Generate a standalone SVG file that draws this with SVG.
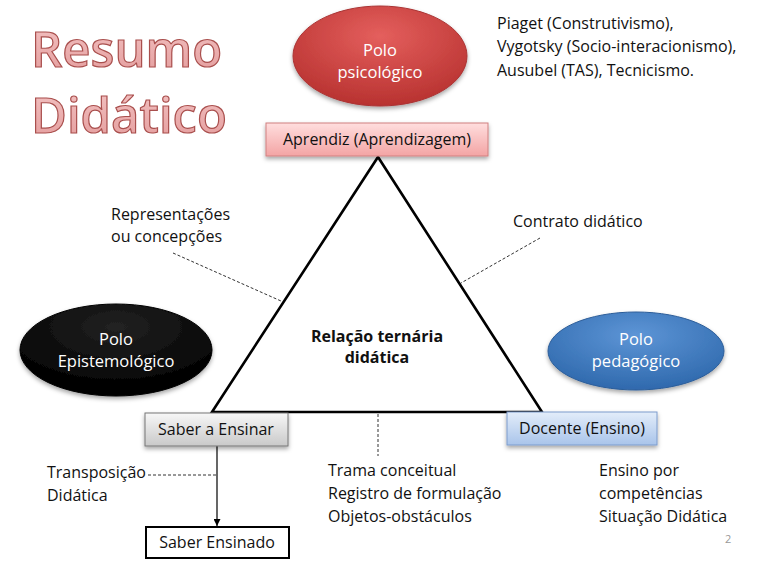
<svg xmlns="http://www.w3.org/2000/svg" width="760" height="570" viewBox="0 0 760 570">
<style>
text{font-family:"Open Sans","Liberation Sans",Arial,sans-serif;fill:#111}
.t{font-size:16px}
.w{fill:#fff;font-size:16.5px}
.mid{text-anchor:middle}
.title{font-size:49px;font-weight:600;fill:url(#gTitle);stroke:#a94f4d;stroke-width:1.2px;font-family:"Open Sans","Liberation Sans",sans-serif}
.tri{fill:none;stroke:#000;stroke-width:2.6;stroke-linejoin:miter}
.dash{stroke:#333;stroke-width:1;stroke-dasharray:3 2;fill:none}
</style>
<defs>
<linearGradient id="gTitle" x1="0" y1="0" x2="0" y2="1"><stop offset="0" stop-color="#f4c6c6"/><stop offset="1" stop-color="#e39a9a"/></linearGradient>
<radialGradient id="gRed" cx="0.5" cy="0.3" r="0.7"><stop offset="0" stop-color="#e45f5d"/><stop offset="1" stop-color="#b83230"/></radialGradient>
<radialGradient id="gBlack" cx="0.5" cy="0.25" r="0.7"><stop offset="0" stop-color="#222"/><stop offset="1" stop-color="#000"/></radialGradient>
<radialGradient id="gBlue" cx="0.5" cy="0.3" r="0.7"><stop offset="0" stop-color="#5d95d6"/><stop offset="1" stop-color="#2f69ad"/></radialGradient>
<linearGradient id="gPink" x1="0" y1="0" x2="0" y2="1"><stop offset="0" stop-color="#ffdede"/><stop offset="1" stop-color="#f3a4a4"/></linearGradient>
<linearGradient id="gGray" x1="0" y1="0" x2="0" y2="1"><stop offset="0" stop-color="#f7f7f7"/><stop offset="1" stop-color="#c9c9c9"/></linearGradient>
<linearGradient id="gLBlue" x1="0" y1="0" x2="0" y2="1"><stop offset="0" stop-color="#e3edfa"/><stop offset="1" stop-color="#a9c4ea"/></linearGradient>
<filter id="sh" x="-20%" y="-20%" width="140%" height="150%"><feDropShadow dx="0" dy="2.5" stdDeviation="2" flood-color="#000" flood-opacity="0.35"/></filter>
<marker id="arr" viewBox="0 0 10 10" refX="10" refY="5" markerWidth="7" markerHeight="7" markerUnits="userSpaceOnUse" orient="auto"><path d="M0,0 L10,5 L0,10 z" fill="#000"/></marker>
</defs>
<rect width="760" height="570" fill="#fff"/>

<g id="title">
<text class="title" x="31" y="67">Resumo</text>
<text class="title" x="31" y="133">Didático</text>
</g>

<g id="connectors">
<path class="tri" d="M212,412 L378,157 L542,412 Z"/>
<line class="dash" x1="173" y1="253" x2="281" y2="301"/>
<line class="dash" x1="540" y1="238" x2="461" y2="283"/>
<line class="dash" x1="378" y1="414" x2="378" y2="456"/>
<line class="dash" x1="148" y1="475" x2="216" y2="475"/>
<line x1="217" y1="446" x2="217" y2="526" stroke="#000" stroke-width="1.2" marker-end="url(#arr)"/>
</g>

<g id="polo-psicologico">
<ellipse cx="380" cy="56" rx="87" ry="50" fill="url(#gRed)" stroke="#a33" stroke-width="1" filter="url(#sh)"/>
<text class="w mid" x="380" y="56">Polo</text>
<text class="w mid" x="380" y="78">psicológico</text>
</g>

<g id="autores">
<text class="t" x="497" y="29">Piaget (Construtivismo),</text>
<text class="t" x="497" y="52">Vygotsky (Socio-interacionismo),</text>
<text class="t" x="497" y="76">Ausubel (TAS), Tecnicismo.</text>
</g>

<g id="aprendiz">
<rect x="266" y="123" width="222" height="33" fill="url(#gPink)" stroke="#d08080" stroke-width="1" filter="url(#sh)"/>
<text class="t mid" x="377" y="145">Aprendiz (Aprendizagem)</text>
</g>

<g id="representacoes">
<text class="t" x="111" y="220">Representações</text>
<text class="t" x="111" y="242">ou concepções</text>
</g>

<g id="contrato">
<text class="t" x="513" y="227">Contrato didático</text>
</g>

<g id="polo-epistemologico">
<ellipse cx="116" cy="350" rx="96" ry="46" fill="url(#gBlack)" stroke="#000" stroke-width="1" filter="url(#sh)"/>
<text class="w mid" x="116" y="345">Polo</text>
<text class="w mid" x="116" y="367">Epistemológico</text>
</g>

<g id="relacao">
<text class="t mid" x="377" y="342" font-weight="bold">Relação ternária</text>
<text class="t mid" x="377" y="363" font-weight="bold">didática</text>
</g>

<g id="polo-pedagogico">
<ellipse cx="636" cy="351" rx="88" ry="39" fill="url(#gBlue)" stroke="#2c5d99" stroke-width="1" filter="url(#sh)"/>
<text class="w mid" x="636" y="345">Polo</text>
<text class="w mid" x="636" y="367">pedagógico</text>
</g>

<g id="saber-a-ensinar">
<rect x="145" y="413" width="143" height="33" fill="url(#gGray)" stroke="#777" stroke-width="1" filter="url(#sh)"/>
<text class="t mid" x="216" y="435">Saber a Ensinar</text>
</g>

<g id="docente">
<rect x="507" y="412" width="150" height="33" fill="url(#gLBlue)" stroke="#7c9ccc" stroke-width="1" filter="url(#sh)"/>
<text class="t mid" x="582" y="434">Docente (Ensino)</text>
</g>

<g id="transposicao">
<text class="t" x="47" y="478">Transposição</text>
<text class="t" x="47" y="501">Didática</text>
</g>

<g id="saber-ensinado">
<rect x="146" y="527" width="143" height="31" fill="#fff" stroke="#000" stroke-width="2"/>
<text class="t mid" x="217" y="548">Saber Ensinado</text>
</g>

<g id="trama">
<text class="t" x="328" y="476">Trama conceitual</text>
<text class="t" x="328" y="499">Registro de formulação</text>
<text class="t" x="328" y="522">Objetos-obstáculos</text>
</g>

<g id="ensino">
<text class="t" x="599" y="476">Ensino por</text>
<text class="t" x="599" y="499">competências</text>
<text class="t" x="599" y="522">Situação Didática</text>
</g>

<text x="725" y="543" font-size="11" style="fill:#999">2</text>
</svg>
